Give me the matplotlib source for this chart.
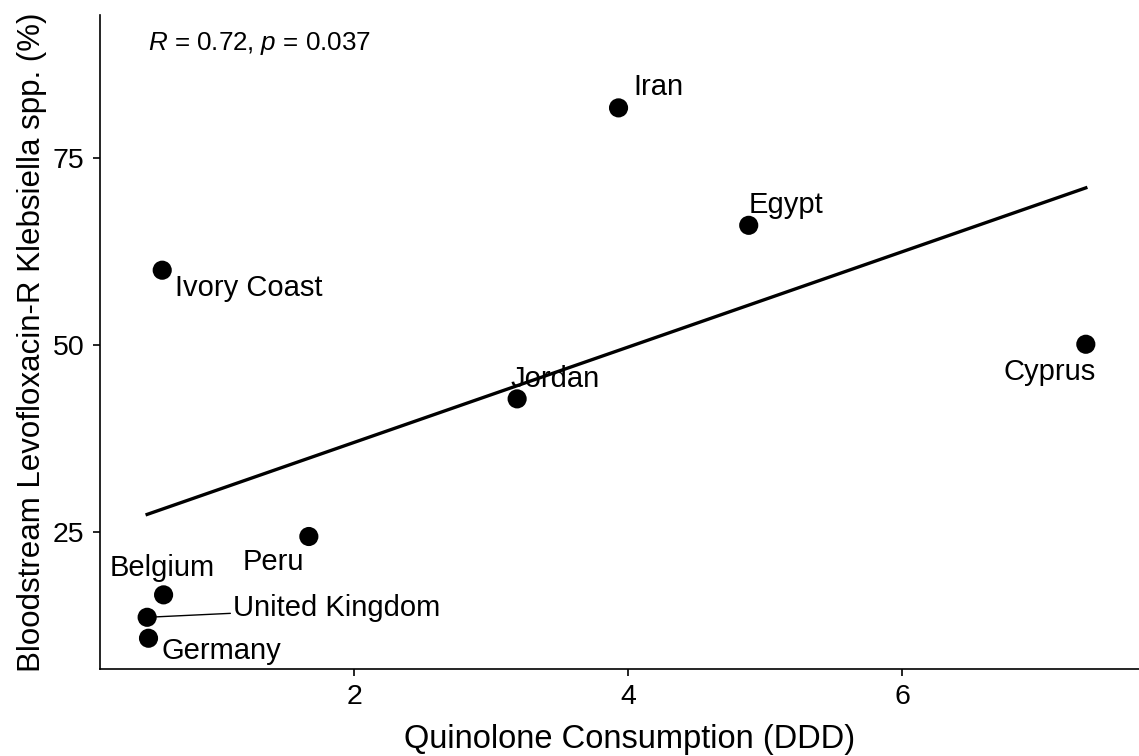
import numpy as np
import matplotlib.pyplot as plt

plt.rcParams['font.family'] = ['Liberation Sans', 'DejaVu Sans']
plt.rcParams['mathtext.fontset'] = 'custom'
plt.rcParams['mathtext.rm'] = 'Liberation Sans'
plt.rcParams['mathtext.it'] = 'Liberation Sans:italic'

# Datos
paises = ['Iran', 'Egypt', 'Ivory Coast', 'Cyprus', 'Jordan', 'Peru',
          'Belgium', 'United Kingdom', 'Germany']
consumo = [3.93, 4.88, 0.60, 7.34, 3.19, 1.67, 0.61, 0.49, 0.50]
resistencia = [81.7, 66.0, 60.0, 50.1, 42.8, 24.4, 16.6, 13.6, 10.8]

# Desplazamiento de las etiquetas (pixeles) y alineación
desplaz = {
    'Iran': (40, 21, 'center'),
    'Egypt': (37, 20, 'center'),
    'Ivory Coast': (87, -18, 'center'),
    'Cyprus': (-36, -28, 'center'),
    'Jordan': (38, 20, 'center'),
    'Peru': (-35, -25, 'center'),
    'Belgium': (-1, 27, 'center'),
    'United Kingdom': (86, 9, 'left'),
    'Germany': (73, -13, 'center'),
}

fig = plt.figure(figsize=(11.39, 7.56), dpi=100)
# el panel sigue un poco más allá del borde derecho (recortado)
ax = fig.add_axes([0.0878, 0.115, 0.93, 0.865])

# Recta de regresión
x = np.array(consumo)
y = np.array(resistencia)
m, b = np.polyfit(x, y, 1)
xs = np.array([x.min(), x.max()])
ax.plot(xs, m * xs + b, color='black', lw=2.4, zorder=2)

ax.scatter(x, y, s=190, color='black', zorder=3, edgecolors='none')

for p, xi, yi in zip(paises, consumo, resistencia):
    dx, dy, ha = desplaz[p]
    props = None
    if p == 'United Kingdom':
        props = dict(arrowstyle='-', color='black', lw=1.0, shrinkA=0, shrinkB=6)
    ax.annotate(p, (xi, yi), xytext=(dx, dy), textcoords='offset pixels',
                ha=ha, va='center', fontsize=21, arrowprops=props, zorder=4)

ax.text(0.045, 0.957, r'$\mathit{R}$ = 0.72, $\mathit{p}$ = 0.037',
        transform=ax.transAxes, fontsize=18.7, va='center', ha='left')

ax.set_xlim(0.146, 7.876)
ax.set_ylim(6.68, 94.1)
ax.set_xticks([2, 4, 6])
ax.set_yticks([25, 50, 75])
ax.tick_params(labelsize=20.5, length=5, width=1.2, colors='black', pad=6)
for s in ['top', 'right']:
    ax.spines[s].set_visible(False)
for s in ['left', 'bottom']:
    ax.spines[s].set_linewidth(1.2)

ax.set_xlabel('Quinolone Consumption (DDD)', fontsize=23.5, labelpad=10)
ax.set_ylabel('Bloodstream Levofloxacin-R Klebsiella spp. (%)', fontsize=22.5, labelpad=4)

fig.savefig('out.png', dpi=100)
